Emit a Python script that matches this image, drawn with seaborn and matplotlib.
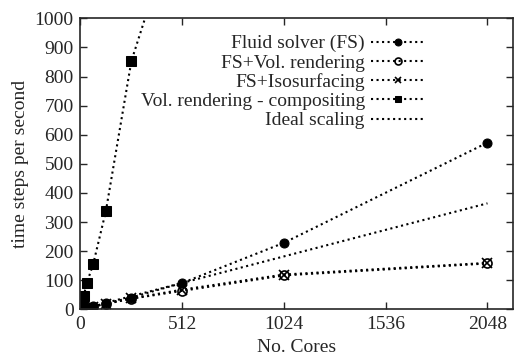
import matplotlib
matplotlib.use("Agg")
import matplotlib.pyplot as plt
import seaborn as sns

# core counts
cores = [8, 16, 32, 64, 128, 256, 512, 1024, 2048]

# time steps per second
fluid_solver = [1.4, 2.8, 5.5, 11, 21, 41, 91, 229, 573]
fs_vol_render = [1.4, 2.7, 5.2, 10, 19, 37, 64, 117, 158]
fs_isosurf = [1.4, 2.7, 5.3, 10, 20, 38, 68, 120, 160]

comp_cores = [8, 16, 32, 64, 128, 256, 512]
compositing = [24, 46, 91, 156, 339, 853, 1400]

ideal_cores = [0, 2048]
ideal_rate = 0.178  # steps/s per core
ideal = [ideal_rate * c for c in ideal_cores]

sns.set_style("ticks")
plt.rcParams["font.family"] = ["Liberation Serif", "DejaVu Serif"]
plt.rcParams["font.size"] = 14

fig = plt.figure(figsize=(5.16, 3.59), dpi=100)
ax = fig.add_axes([0.156, 0.138, 0.838, 0.811])

line_kw = dict(color="black", linestyle=":", linewidth=1.5, markersize=6.5)

sns.lineplot(x=cores, y=fluid_solver, marker="o", markeredgecolor="black",
             label="Fluid solver (FS)", ax=ax, **line_kw)
sns.lineplot(x=cores, y=fs_vol_render, marker="o", markerfacecolor="none",
             markeredgecolor="black", markeredgewidth=1.2,
             label="FS+Vol. rendering", ax=ax, **line_kw)
sns.lineplot(x=cores, y=fs_isosurf, marker="x", markeredgecolor="black",
             markeredgewidth=1.2, label="FS+Isosurfacing", ax=ax, **line_kw)
sns.lineplot(x=comp_cores, y=compositing, marker="s", markeredgecolor="black",
             label="Vol. rendering - compositing", ax=ax, **line_kw)
sns.lineplot(x=ideal_cores, y=ideal, label="Ideal scaling", ax=ax,
             color="black", linestyle=":", linewidth=1.5)

ax.set_xlim(0, 2176)
ax.set_ylim(0, 1000)
ax.set_xticks([0, 512, 1024, 1536, 2048])
ax.set_yticks(range(0, 1001, 100))
ax.tick_params(direction="in", length=5, width=1, top=True, right=True,
               labelsize=14, pad=5)
for s in ax.spines.values():
    s.set_linewidth(1.2)
    s.set_visible(True)

ax.set_xlabel("No. Cores", fontsize=14, labelpad=4)
ax.set_ylabel("time steps per second", fontsize=14, labelpad=4)

leg = ax.legend(loc="upper right", bbox_to_anchor=(0.815, 0.97), frameon=False,
                markerfirst=False, handlelength=2.8, labelspacing=0.08,
                handletextpad=0.3, fontsize=14, borderaxespad=0)
for h in leg.legend_handles:
    h.set_markersize(5)

fig.savefig("out.png", dpi=100)
